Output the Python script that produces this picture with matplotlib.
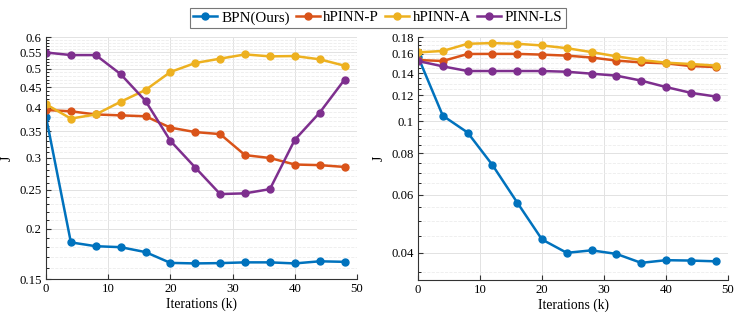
import matplotlib.pyplot as plt
from matplotlib.ticker import FixedLocator, NullFormatter
import numpy as np

# iterations (k)
iters = [0, 4, 8, 12, 16, 20, 24, 28, 32, 36, 40, 44, 48]
labels = ['BPN(Ours)', 'hPINN-P', 'hPINN-A', 'PINN-LS']

# left panel
left_bpn = [0.380, 0.185, 0.181, 0.180, 0.175, 0.1645, 0.164, 0.1643, 0.165, 0.165, 0.164, 0.166, 0.1655]
left_hp = [0.395, 0.392, 0.385, 0.383, 0.381, 0.357, 0.348, 0.344, 0.305, 0.300, 0.289, 0.288, 0.285]
left_ha = [0.408, 0.376, 0.385, 0.414, 0.443, 0.491, 0.517, 0.530, 0.543, 0.537, 0.538, 0.528, 0.509]
left_ls = [0.549, 0.541, 0.541, 0.485, 0.416, 0.331, 0.284, 0.244, 0.245, 0.251, 0.333, 0.389, 0.470]

# right panel
right_bpn = [0.157, 0.104, 0.0925, 0.0738, 0.0568, 0.0439, 0.0400, 0.0407, 0.0397, 0.0373, 0.0380, 0.0379, 0.0377]
right_hp = [0.1533, 0.1523, 0.1599, 0.160, 0.160, 0.1592, 0.1581, 0.156, 0.1527, 0.1508, 0.1498, 0.147, 0.146]
right_ha = [0.1617, 0.1633, 0.1717, 0.1725, 0.1717, 0.1697, 0.1665, 0.162, 0.1573, 0.1533, 0.1505, 0.1491, 0.1475]
right_ls = [0.1523, 0.1467, 0.142, 0.142, 0.142, 0.142, 0.1413, 0.1394, 0.1375, 0.1328, 0.127, 0.122, 0.1189]

left_ticks = [0.15, 0.2, 0.25, 0.3, 0.35, 0.4, 0.45, 0.5, 0.55, 0.6]
right_ticks = [0.04, 0.06, 0.08, 0.1, 0.12, 0.14, 0.16, 0.18]

colors = ['#0072BD', '#D95319', '#EDB120', '#7E2F8E']

plt.rcParams['font.family'] = ['Liberation Serif', 'DejaVu Serif']
plt.rcParams['font.size'] = 9

fig = plt.figure(figsize=(7.47, 3.24), dpi=100)
ax1 = fig.add_axes([46/747, 45/324, 311/747, 242/324])
ax2 = fig.add_axes([418/747, 44/324, 310/747, 243/324])


def setup(ax, data, ticks, ylim, minor):
    lines = []
    for ys, c, lab in zip(data, colors, labels):
        ln, = ax.plot(iters, ys, '-o', color=c, lw=1.8, ms=5, label=lab)
        lines.append(ln)
    ax.set_yscale('log')
    ax.set_xlim(0, 50)
    ax.set_ylim(*ylim)
    ax.set_xticks([0, 10, 20, 30, 40, 50])
    ax.yaxis.set_major_locator(FixedLocator(ticks))
    ax.set_yticklabels([('%g' % t) for t in ticks])
    ax.yaxis.set_minor_locator(FixedLocator(minor))
    ax.yaxis.set_minor_formatter(NullFormatter())
    ax.grid(True, which='major', color='#e2e2e2', lw=0.7)
    ax.grid(True, which='minor', axis='y', color='#ececec', lw=0.6, ls='--')
    ax.set_axisbelow(True)
    ax.tick_params(direction='in', labelsize=9.2, length=3.5, color='#333333', pad=3)
    ax.tick_params(which='minor', direction='in', length=1.8)
    for s in ['top', 'right']:
        ax.spines[s].set_visible(False)
    for s in ['left', 'bottom']:
        ax.spines[s].set_color('#333333')
        ax.spines[s].set_linewidth(0.8)
    ax.set_xlabel('Iterations (k)', fontsize=9.8, labelpad=2)
    ax.set_ylabel('J', fontsize=9.8, labelpad=4)
    return lines


minor_l = [v for v in np.round(np.arange(0.15, 0.6001, 0.01), 3) if v not in left_ticks]
minor_r = [v for v in np.round(np.arange(0.035, 0.1801, 0.005), 3) if v not in right_ticks]

lines = setup(ax1, [left_bpn, left_hp, left_ha, left_ls], left_ticks, (0.15, 0.6), minor_l)
setup(ax2, [right_bpn, right_hp, right_ha, right_ls], right_ticks, (0.0331, 0.18), minor_r)

leg = fig.legend(handles=lines, loc='upper center', bbox_to_anchor=(0.506, 0.985), ncol=4,
                 fontsize=10.8, frameon=True, fancybox=False, edgecolor='#555555',
                 handlelength=1.6, handletextpad=0.25, columnspacing=0.4, borderpad=0.2,
                 borderaxespad=0.2)
leg.get_frame().set_linewidth(0.8)

fig.savefig('out.png', dpi=100)
